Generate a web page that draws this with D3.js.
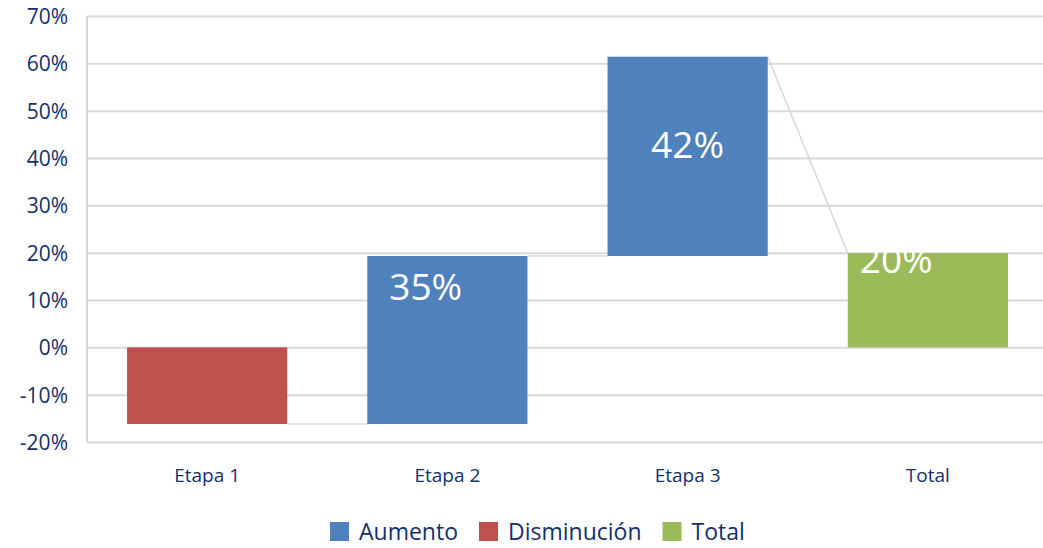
<!DOCTYPE html>
<html>
<head>
<meta charset="utf-8">
<script src="https://cdn.jsdelivr.net/npm/d3@7"></script>
<style>
    body { margin: 0; background: #fff; }
    svg { display: block; font-family: "Open Sans", "Noto Sans", sans-serif; }
    .grid line { stroke: #d9d9d9; stroke-width: 2; }
    .grid path { display: none; }
</style>
</head>
<body>
<script>
// chart data
var categories = ["Etapa 1", "Etapa 2", "Etapa 3", "Total"];
var changes = [-16.2, 35.5, 42.1, 19.9];
var kinds = ["dec", "inc", "inc", "total"];
var labels = ["-16%", "35%", "42%", "20%"];
var yTicks = [-20, -10, 0, 10, 20, 30, 40, 50, 60, 70];
var legendNames = ["Aumento", "Disminución", "Total"];
var legendKinds = ["inc", "dec", "total"];

var colors = {inc: "#4f81bd", dec: "#c0504d", total: "#9bbb59"};
var textColor = "#14306b";

var width = 1043, height = 548;
var plot = {left: 87, right: 1048, top: 16, bottom: 442};

// build start/end of each bar (waterfall)
var bars = [];
var running = 0;
categories.forEach(function (c, i) {
    var start, end;
    if (kinds[i] === "total") {
        start = 0;
        end = changes[i];
    } else {
        start = running;
        end = running + changes[i];
        running = end;
    }
    bars.push({cat: c, start: start, end: end, kind: kinds[i], label: labels[i]});
});

var x = d3.scaleBand()
    .domain(categories)
    .range([plot.left, plot.right])
    .paddingInner(1 / 3)
    .paddingOuter(1 / 6);

var y = d3.scaleLinear()
    .domain([-20, 70])
    .range([plot.bottom, plot.top]);

var svg = d3.select("body").append("svg")
    .attr("width", width)
    .attr("height", height);

// horizontal gridlines
svg.append("g")
    .attr("class", "grid")
    .attr("transform", "translate(" + plot.left + ",0)")
    .call(d3.axisLeft(y).tickValues(yTicks).tickSize(-(plot.right - plot.left)).tickFormat(""));

// y axis line
svg.append("line")
    .attr("x1", plot.left).attr("x2", plot.left)
    .attr("y1", plot.top).attr("y2", plot.bottom)
    .attr("stroke", "#d9d9d9").attr("stroke-width", 2);

// y tick labels
var yAxis = svg.append("g")
    .attr("transform", "translate(" + (plot.left - 19) + ",0)")
    .call(d3.axisLeft(y).tickValues(yTicks).tickSize(0).tickPadding(0)
        .tickFormat(function (d) { return d + "%"; }));
yAxis.attr("font-family", null).attr("font-size", null);
yAxis.select(".domain").remove();
yAxis.selectAll("text")
    .attr("fill", textColor)
    .style("font-family", "'Open Sans', sans-serif")
    .style("font-size", "21px")
    .attr("dy", "0.36em");

// connectors between bars
for (var i = 0; i < bars.length - 1; i++) {
    svg.append("line")
        .attr("x1", x(bars[i].cat) + x.bandwidth())
        .attr("y1", y(bars[i].end))
        .attr("x2", x(bars[i + 1].cat))
        .attr("y2", y(bars[i + 1].kind === "total" ? bars[i + 1].end : bars[i + 1].start))
        .attr("stroke", "#d9d9d9")
        .attr("stroke-width", 1.5);
}

// bars
svg.selectAll("rect.bar")
    .data(bars)
    .enter().append("rect")
    .attr("class", "bar")
    .attr("x", function (d) { return x(d.cat); })
    .attr("width", x.bandwidth())
    .attr("y", function (d) { return y(Math.max(d.start, d.end)); })
    .attr("height", function (d) { return Math.abs(y(d.start) - y(d.end)); })
    .attr("fill", function (d) { return colors[d.kind]; });

// data labels (white, excel-like placement)
var labelPos = [
    {dx: 14, dy: -1, anchor: "start"},
    {dx: 22, dy: 44, anchor: "start"},
    {dx: 80, dy: 101, anchor: "middle"},
    {dx: 12, dy: 20, anchor: "start"}
];
svg.selectAll("text.lbl")
    .data(bars)
    .enter().append("text")
    .attr("class", "lbl")
    .attr("x", function (d, i) { return x(d.cat) + labelPos[i].dx; })
    .attr("y", function (d, i) { return y(Math.max(d.start, d.end)) + labelPos[i].dy; })
    .attr("text-anchor", function (d, i) { return labelPos[i].anchor; })
    .attr("fill", "#fff")
    .style("font-size", "37px")
    .text(function (d) { return d.label; });

// x axis labels
svg.selectAll("text.cat")
    .data(categories)
    .enter().append("text")
    .attr("class", "cat")
    .attr("x", function (d) { return x(d) + x.bandwidth() / 2; })
    .attr("y", 482)
    .attr("text-anchor", "middle")
    .attr("fill", textColor)
    .style("font-size", "19px")
    .text(function (d) { return d; });

// legend
var legend = svg.append("g");
var lx = 330;
legendNames.forEach(function (name, i) {
    legend.append("rect")
        .attr("x", lx).attr("y", 522)
        .attr("width", 19).attr("height", 19)
        .attr("fill", colors[legendKinds[i]]);
    var t = legend.append("text")
        .attr("x", lx + 29).attr("y", 540)
        .attr("fill", textColor)
        .style("font-size", "23px")
        .text(name);
    lx += 29 + t.node().getComputedTextLength() + 21;
});
</script>
</body>
</html>
